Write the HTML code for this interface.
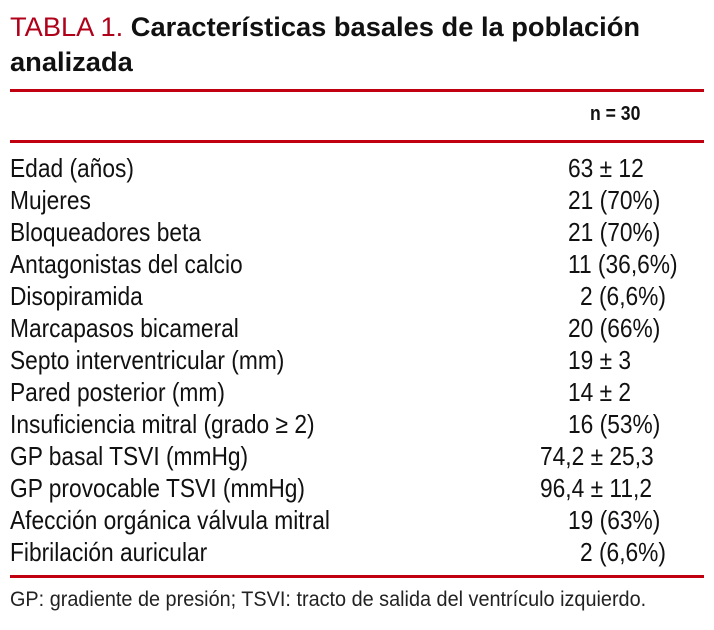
<!DOCTYPE html>
<html><head><meta charset="utf-8"><style>
body{margin:0;width:714px;height:630px;background:#fff;position:relative;overflow:hidden;font-family:"Liberation Sans",sans-serif;color:#111}
.t{position:absolute;white-space:nowrap;transform-origin:0 50%}
.line{position:absolute;left:10px;width:694px;height:3px;background:#c00010}
.r,.v{position:absolute;font-size:26px;white-space:nowrap;line-height:32px;transform:scaleX(0.875);transform-origin:0 50%}
.r{left:10px}
</style></head><body>
<div class="t" style="left:10px;top:10px;font-size:27px;line-height:35px;font-weight:bold;transform:scaleX(1.01);">
<span style="color:#b0001a;font-weight:normal">TABLA 1.</span> Características basales de la población<br>analizada</div>
<div class="line" style="top:89px"></div>
<div class="t" style="left:590px;top:103px;font-size:20px;font-weight:bold;transform:scaleX(0.88)">n = 30</div>
<div class="line" style="top:140px"></div>
<div id="rows"></div>
<div class="line" style="top:575px"></div>
<div class="t" style="left:10px;top:588px;font-size:21px;color:#222;transform:scaleX(0.945)">GP: gradiente de presión; TSVI: tracto de salida del ventrículo izquierdo.</div>
<script>
const labels=["Edad (años)","Mujeres","Bloqueadores beta","Antagonistas del calcio","Disopiramida","Marcapasos bicameral","Septo interventricular (mm)","Pared posterior (mm)","Insuficiencia mitral (grado ≥ 2)","GP basal TSVI (mmHg)","GP provocable TSVI (mmHg)","Afección orgánica válvula mitral","Fibrilación auricular"];
const values=["63 ± 12","21 (70%)","21 (70%)","11 (36,6%)","2 (6,6%)","20 (66%)","19 ± 3","14 ± 2","16 (53%)","74,2 ± 25,3","96,4 ± 11,2","19 (63%)","2 (6,6%)"];
const c=document.getElementById('rows');
labels.forEach((l,i)=>{
  const y=152+i*32;
  const a=document.createElement('div');a.className='r';a.style.top=y+'px';a.textContent=l;
  
  
  c.appendChild(a);
  const v=document.createElement('div');v.className='v';v.style.top=y+'px';
  const s=values[i];
  let x=568;
  if(/^\d \(/.test(s))x=580;
  if(/^\d\d,\d/.test(s))x=540;
  v.style.left=x+'px';v.textContent=s;
  
  
  c.appendChild(v);
});
</script>
</body></html>
